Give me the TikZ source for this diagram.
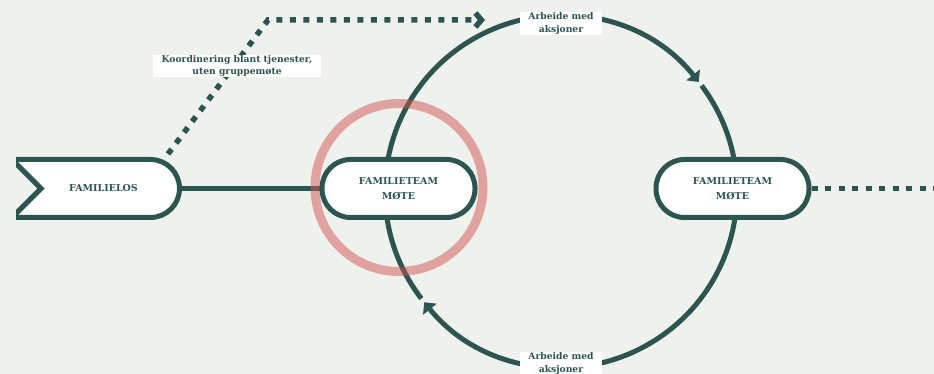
\documentclass[tikz,border=0pt]{standalone}
\usepackage{fontspec}
\setmainfont{DejaVu Serif}
\usetikzlibrary{arrows.meta}
\definecolor{bgc}{RGB}{239,241,236}
\definecolor{dg}{RGB}{44,84,80}
\definecolor{ringc}{RGB}{209,85,82}
\pgfdeclarelayer{back}
\pgfdeclarelayer{ringl}
\pgfsetlayers{back,ringl,main}
\begin{document}
\begin{tikzpicture}[x=1pt,y=1pt,
  pill/.style={draw=dg, line width=5pt, fill=white, rounded corners=28.5pt,
    minimum width=153pt, minimum height=58pt, inner sep=0pt,
    font=\bfseries\fontsize{9.5}{14.5}\selectfont, text=dg, align=center},
  lbl/.style={fill=white, text=dg, font=\bfseries\fontsize{9.2}{12.5}\selectfont,
    align=center, inner sep=0pt},
  flow/.style={draw=dg, line width=5pt},
  dots/.style={draw=dg, line width=5.5pt, dash pattern=on 6pt off 7.5pt},
  tipA/.style={-{Triangle[length=9pt,width=17pt]}}
]
\useasboundingbox (0,0) rectangle (934,374);

% nodes
\node[pill] (n1) at (398.5,185.5) {FAMILIETEAM\\MØTE};
\node[pill] (n2) at (732.5,185.5) {FAMILIETEAM\\MØTE};
\node[draw=none, minimum width=166pt, minimum height=63pt, inner sep=0pt,
  font=\bfseries\fontsize{9.5}{14.5}\selectfont, text=dg] (famlos) at (99,185.5) {\hspace*{9pt}FAMILIELOS};
\coordinate (c) at (561,182.5);
\coordinate (dstart) at (168,220);
\coordinate (dcorner) at (268,354);
\coordinate (dend) at (485,354);
\coordinate (rend) at (934,185.5);

\node[lbl, minimum width=82pt, minimum height=23pt] (lt) at (561,350.5) {Arbeide med\\aksjoner};
\node[lbl, minimum width=82pt, minimum height=23pt] (lb) at (561,10.5) {Arbeide med\\aksjoner};
\node[lbl, minimum width=168pt, minimum height=22pt] (lk) at (237,308) {Koordinering blant tjenester,\\uten gruppemøte};

\begin{pgfonlayer}{back}
\fill[bgc] (0,0) rectangle (934,374);
% cycle arcs
\draw[flow, tipA] ([shift={(217.5:176)}]c) arc[start angle=217.5, end angle=38.5, radius=176];
\draw[flow, tipA] ([shift={(37:176)}]c) arc[start angle=37, end angle=-141, radius=176];
% familielos shape
\begin{scope}
\clip (16,0) rectangle (300,374);
\draw[dg, line width=5pt, fill=white] (12,214.5) -- (150.5,214.5)
  arc[start angle=90, end angle=-90, radius=29] -- (12,156.5) -- (41,185.5) -- cycle;
\end{scope}
% connectors
\draw[flow] (famlos.east) -- (n1.west);
\draw[dots, -{Straight Barb[length=6pt,width=14pt,sharp]}] (dstart) -- (dcorner) -- (dend);
\draw[dots] (n2.east) -- (rend);
\end{pgfonlayer}

\begin{pgfonlayer}{ringl}
\draw[ringc, line width=9pt, opacity=0.5] (399,186.5) circle[radius=84];
\end{pgfonlayer}
\end{tikzpicture}
\end{document}
